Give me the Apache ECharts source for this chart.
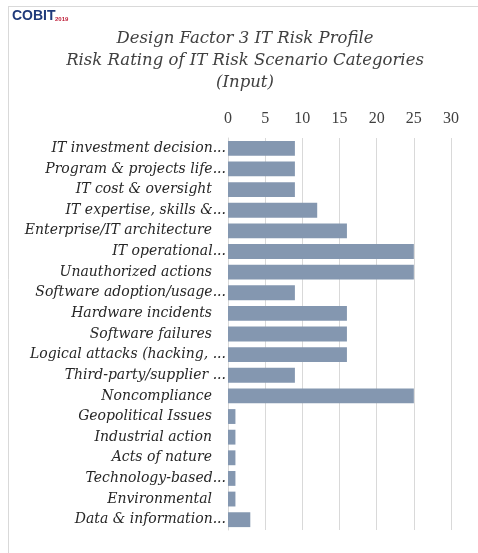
<!DOCTYPE html>
<html><head><meta charset="utf-8">
<script src="https://cdn.jsdelivr.net/npm/echarts@6/dist/echarts.min.js"></script>
<style>html,body{margin:0;padding:0;background:#fff}#c{width:478px;height:553px}</style>
</head><body><div id="c"></div>
<script>
var categories = [
  "IT investment decision...",
  "Program & projects life...",
  "IT cost & oversight",
  "IT expertise, skills &...",
  "Enterprise/IT architecture",
  "IT operational...",
  "Unauthorized actions",
  "Software adoption/usage...",
  "Hardware incidents",
  "Software failures",
  "Logical attacks (hacking, ...",
  "Third-party/supplier ...",
  "Noncompliance",
  "Geopolitical Issues",
  "Industrial action",
  "Acts of nature",
  "Technology-based...",
  "Environmental",
  "Data & information..."
];
var values = [9, 9, 9, 12, 16, 25, 25, 9, 16, 16, 16, 9, 25, 1, 1, 1, 1, 1, 3];
var titleLines = ["Design Factor 3 IT Risk Profile", "Risk Rating of IT Risk Scenario Categories", "(Input)"];

var chart = echarts.init(document.getElementById('c'));
var serif = '"DejaVu Serif", "Liberation Serif", serif';
chart.setOption({
  animation: false,
  backgroundColor: '#fff',
  graphic: [
    { type: 'line', shape: { x1: 8, y1: 6.5, x2: 478, y2: 6.5 }, style: { stroke: '#d9d9d9', lineWidth: 1 } },
    { type: 'line', shape: { x1: 8.5, y1: 6, x2: 8.5, y2: 553 }, style: { stroke: '#d9d9d9', lineWidth: 1 } },
    { type: 'text', left: 12, top: 9, style: { text: 'COBIT', font: 'bold 14px "Liberation Sans Narrow", "Liberation Sans", sans-serif', fill: '#1f3a7a' } },
    { type: 'text', left: 55, top: 16, style: { text: '2019', font: 'bold 6px "Liberation Sans", sans-serif', fill: '#c0203a' } }
  ],
  title: {
    text: titleLines.join('\n'),
    left: 240, textAlign: 'center', top: 23,
    textStyle: { fontFamily: serif, fontStyle: 'italic', fontWeight: 'normal', fontSize: 16.5, color: '#404040', lineHeight: 22 }
  },
  grid: { left: 228, right: 27, top: 138, bottom: 23, containLabel: false },
  xAxis: {
    type: 'value', position: 'top', min: 0, max: 30, interval: 5,
    axisLine: { show: false }, axisTick: { show: false },
    axisLabel: { fontFamily: '"Liberation Serif", serif', fontSize: 16, color: '#404040', margin: 11 },
    splitLine: { lineStyle: { color: '#d9d9d9', width: 1 } }
  },
  yAxis: {
    type: 'category', data: categories, inverse: true,
    axisLine: { show: true, lineStyle: { color: '#d9d9d9' } }, axisTick: { show: false },
    axisLabel: {
      margin: 2, interval: 0,
      formatter: function (v) { return /\.\.\.$/.test(v) ? '{a|' + v + '}' : '{b|' + v + '}'; },
      rich: {
        a: { fontFamily: serif, fontStyle: 'italic', fontSize: 14, color: '#262626' },
        b: { fontFamily: serif, fontStyle: 'italic', fontSize: 14, color: '#262626', padding: [0, 14, 0, 0] }
      }
    }
  },
  series: [{
    type: 'bar', data: values, barCategoryGap: '28%',
    itemStyle: { color: '#8497b0' }
  }]
});
</script></body></html>
